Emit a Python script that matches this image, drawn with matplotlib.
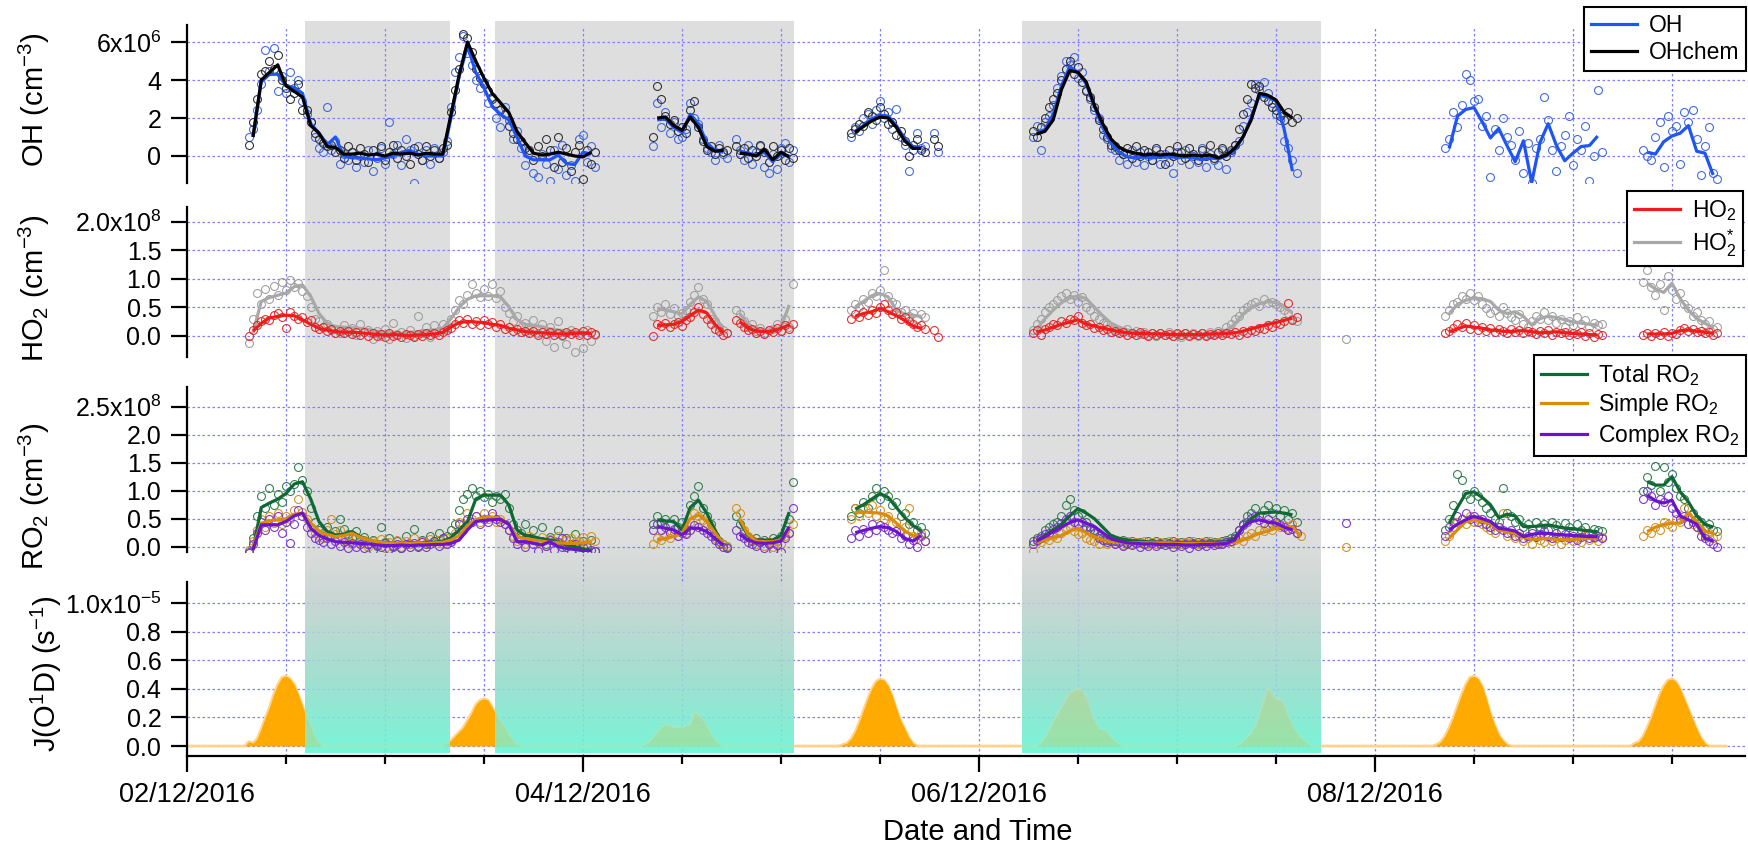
import numpy as np
import matplotlib
matplotlib.use("Agg")
from matplotlib import pyplot as plt
from matplotlib.colors import to_rgb
from matplotlib.lines import Line2D
from matplotlib.ticker import FixedFormatter, FixedLocator, MultipleLocator

nan = np.nan

plt.rcParams["font.family"] = "Liberation Sans"
plt.rcParams["mathtext.fontset"] = "custom"
plt.rcParams["mathtext.rm"] = "Liberation Sans"
plt.rcParams["mathtext.it"] = "Liberation Sans:italic"
plt.rcParams["mathtext.bf"] = "Liberation Sans:bold"
plt.rcParams["mathtext.default"] = "regular"

# ---- data: times in hours after 02/12/2016 00:00 ----
# lines are hourly means (1 h step), points are 30 min values
SHADE_PERIODS = [(14.25, 31.8), (37.3, 73.5), (101.2, 137.4)]
LINE_START = [8, 57, 67, 81, 103, 153, 177]
PT_START = [7.5, 56.5, 66.5, 80.5, 102.5, 152.5, 176.5]
STRAY_H = 140.5

XTICK_DAYS = [0, 2, 4, 6]
XTICK_LABELS = ["02/12/2016", "04/12/2016", "06/12/2016", "08/12/2016"]

# OH, 1e6 cm-3
oh_line = [
    [1.0, 3.9, 4.3, 4.3, 3.7, 3.6, 3.3, 1.7, 1.2, 0.6, 1.0, 0.0, -0.1, -0.1, -0.15, -0.2, -0.1, 0.0, 0.2, 0.3,
     0.1, 0.0, 0.0, 0.0, 2.0, 4.2, 5.8, 4.4, 3.6, 2.6, 2.2, 1.9, 1.0, 0.0, -0.2, -0.2, -0.2, 0.05, -0.4, -0.45,
     0.2, 0.1],
    [1.9, 1.95, 1.5, 1.25, 2.2, 1.7, 0.7, 0.3, 0.2],
    [0.25, 0.15, 0.05, 0.2, -0.3, 0.1, 0.0],
    [1.3, 1.6, 1.95, 2.15, 2.1, 1.6, 0.9, 0.5, 0.45],
    [1.2, 1.4, 2.2, 3.7, 4.7, 4.4, 3.8, 2.6, 1.5, 0.7, 0.2, -0.05, -0.1, -0.05, -0.1, -0.05, 0.0, -0.1, -0.05, -0.1,
     -0.2, -0.1, -0.15, 0.0, 0.3, 1.0, 2.0, 3.2, 3.1, 2.9, 1.4, -0.8],
    [0.4, 2.1, 2.45, 2.55, 1.8, 0.95, 1.45, 0.55, -0.3, 0.8, -1.4, 0.7, 1.7, 0.55, -0.25, 0.15, 0.5, 0.55, 1.05],
    [0.2, 0.1, 0.75, 1.05, 1.2, 1.6, 0.25, 0.15, -1.0],
]
ohchem_line = [
    [1.0, 4.0, 4.4, 4.8, 3.7, 3.4, 3.1, 1.6, 1.2, 0.5, 0.45, 0.1, 0.1, 0.15, 0.05, 0.1, 0.0, 0.15, 0.1, 0.15,
     0.05, 0.15, 0.1, 0.1, 2.2, 4.3, 6.0, 5.0, 4.1, 3.3, 2.8, 2.3, 1.3, 0.7, 0.15, 0.05, 0.1, 0.2, 0.1, 0.0,
     -0.05, 0.2],
    [2.0, 2.05, 1.6, 1.35, 2.05, 1.5, 0.5, 0.25, 0.3],
    [0.15, 0.1, 0.0, 0.35, -0.2, 0.2, -0.05],
    [1.25, 1.55, 1.85, 2.05, 2.0, 1.5, 0.8, 0.4, 0.4],
    [1.15, 1.3, 1.9, 3.5, 4.5, 4.4, 3.9, 2.65, 1.7, 0.9, 0.45, 0.25, 0.15, 0.05, 0.1, 0.05, 0.1, 0.05, 0.0, 0.05,
     0.0, 0.05, -0.1, 0.05, 0.4, 1.0, 1.9, 3.3, 3.2, 2.95, 2.3, 2.0],
]
oh_pts = [
    [1.0, 1.4, 2.4, 3.8, 5.6, 4.5, 5.7, 3.4, 4.2, 3.3, 4.4, 3.6, 4.0, 2.9, 2.2, 1.8, 1.0, 0.4, 0.2, 2.6,
     0.3, 0.8, -0.4, 0.1, -0.2, 0.2, -0.6, 0.0, -0.3, 0.3, -0.8, -0.1, 0.4, -0.4, 1.8, 0.1, 0.6, -0.5, 0.9, 0.3,
     -1.4, 0.5, -0.2, 0.3, -0.4, 0.4, -0.1, 0.2, 0.8, 2.6, 4.4, 5.2, 6.3, 5.4, 4.8, 4.0, 3.6, 3.9, 2.8, 3.1,
     2.0, 1.5, 2.6, 1.9, 0.9, 1.3, 0.4, -0.5, 0.2, -0.9, -1.1, 0.1, -0.4, -1.3, 0.3, -0.7, 0.6, -1.0, -0.5, -1.3,
     0.9, 1.1, -0.3, 0.5, -0.6],
    [0.5, 2.8, 1.5, 2.3, 1.2, 1.8, 0.9, 1.0, 1.4, 2.8, 2.0, 1.7, 0.9, 0.4, 0.2, -0.2, 0.6, 0.1, -0.1],
    [0.9, 0.3, -0.2, 0.6, -0.4, 0.2, 0.5, -0.6, -0.9, 0.1, -0.7, 0.4, 0.7, -0.3, 0.3],
    [1.0, 1.5, 1.3, 2.0, 2.2, 1.7, 2.4, 2.9, 2.0, 2.3, 1.4, 2.5, 1.0, 0.6, -0.8, 0.3, 1.2, 0.4, 0.5, nan, 1.2, 0.2],
    [1.0, 1.6, 0.3, 1.8, 2.1, 2.7, 3.6, 4.2, 5.0, 4.8, 5.2, 4.1, 4.4, 3.5, 3.0, 2.4, 2.0, 1.1, 0.9, 0.4,
     0.3, -0.2, 0.1, -0.4, 0.3, -0.3, 0.2, -0.5, 0.0, -0.2, 0.3, -0.4, 0.1, -0.3, -0.9, 0.2, -0.2, 0.3, -0.4, 0.0,
     -0.3, 0.4, -0.6, 0.1, -0.2, -0.5, 0.3, -0.7, 0.2, 0.6, 0.8, 1.6, 2.3, 2.8, 3.8, 3.5, 3.9, 3.3, 2.8, 2.2,
     1.9, 0.8, 0.4, -0.2, -0.9],
    [0.4, 0.9, 2.3, 1.5, 2.7, 4.3, 4.0, 2.9, 3.0, 1.6, 2.1, -1.1, 1.4, 0.3, 2.0, 1.0, 0.6, -0.2, 1.3, -0.9,
     0.7, -1.4, 0.4, 0.9, 3.1, 1.9, 0.3, -0.8, 0.5, 1.1, 2.1, -0.5, 0.9, 0.3, 1.6, -1.3, 0.0, 3.5, 0.2],
    [0.3, 0.0, -0.2, 1.0, 1.8, -0.6, 2.1, 1.3, 1.6, -0.4, 2.3, 1.8, 2.4, 0.9, -1.0, 0.5, 1.5, -0.9, -1.2],
]
ohchem_pts = [
    [0.6, 1.8, 3.0, 4.3, 4.5, 5.0, 4.6, 5.3, 4.0, 3.6, 3.0, 3.3, 3.8, 2.4, 2.4, 1.8, 1.2, 0.9, 0.7, 0.5,
     0.6, 0.2, 0.3, -0.1, 0.5, 0.2, -0.2, 0.4, 0.1, -0.3, 0.3, 0.0, 0.5, -0.2, 0.2, 0.6, -0.1, 0.3, 0.0, -0.4,
     0.4, 0.1, -0.2, 0.5, 0.0, 0.3, -0.1, 0.4, 0.6, 2.3, 3.5, 4.6, 6.4, 6.2, 5.5, 4.6, 4.1, 3.8, 3.4, 3.0,
     2.8, 2.4, 2.2, 1.6, 1.2, 0.9, 0.8, 0.4, 0.3, -0.2, 0.5, 0.0, 0.9, 0.3, -0.6, 1.0, -0.3, 0.4, -0.8, 0.2,
     0.6, -1.2, 0.3, -0.4, 0.2],
    [1.0, 3.7, 3.0, 2.1, 1.7, 1.9, 1.3, 1.5, 1.2, 2.4, 2.9, 1.5, 0.8, 0.3, 0.5, 0.1, 0.4, 0.2, 0.3],
    [0.5, 0.1, 0.4, -0.1, 0.3, 0.0, 0.6, 0.2, -0.3, 0.5, 0.0, 0.3, -0.2, 0.4, -0.1],
    [1.2, 1.4, 1.7, 1.6, 2.3, 2.1, 1.9, 2.6, 2.2, 1.7, 1.8, 1.1, 1.3, 0.8, 0.0, 0.6, 0.9, 0.3, 0.2, nan, 0.9, 0.5],
    [1.3, 1.0, 1.5, 2.0, 2.6, 3.0, 3.3, 4.0, 4.6, 5.0, 4.3, 4.7, 3.9, 3.4, 3.1, 2.6, 1.9, 1.4, 1.0, 0.6,
     0.5, 0.3, 0.1, 0.4, -0.1, 0.5, 0.0, 0.3, 0.2, -0.2, 0.4, 0.1, -0.4, 0.3, 0.0, 0.5, 0.2, -0.1, 0.4, 0.1,
     -0.2, 0.3, 0.0, 0.6, -0.1, 0.2, 0.4, 0.0, 0.3, 0.6, 1.4, 2.2, 3.0, 3.8, 3.6, 3.7, 3.1, 2.9, 2.6, 2.4,
     2.1, 1.9, 2.3, 1.8, 2.0],
]

# HO2 and HO2*, 1e8 cm-3
ho2_line = [
    [0.08, 0.22, 0.31, 0.34, 0.36, 0.35, 0.28, 0.2, 0.13, 0.1, 0.07, 0.06, 0.06, 0.05, 0.04, 0.02, 0.01, 0.02, 0.01, 0.0,
     0.01, 0.02, 0.03, 0.06, 0.15, 0.23, 0.25, 0.24, 0.23, 0.2, 0.18, 0.13, 0.1, 0.07, 0.06, 0.05, 0.04, 0.03, 0.03, 0.04,
     0.05, 0.04],
    [0.18, 0.19, 0.2, 0.25, 0.35, 0.45, 0.4, 0.2, 0.05],
    [0.25, 0.13, 0.08, 0.07, 0.08, 0.13, 0.19],
    [0.34, 0.39, 0.42, 0.48, 0.42, 0.35, 0.27, 0.17, 0.13],
    [0.07, 0.1, 0.15, 0.2, 0.24, 0.28, 0.2, 0.17, 0.13, 0.1, 0.07, 0.05, 0.04, 0.04, 0.03, 0.03, 0.02, 0.02, 0.02, 0.02,
     0.02, 0.03, 0.03, 0.04, 0.05, 0.08, 0.12, 0.16, 0.2, 0.23, 0.27, 0.31],
    [0.07, 0.12, 0.17, 0.15, 0.13, 0.1, 0.09, 0.07, 0.08, 0.09, 0.07, 0.05, 0.06, 0.07, 0.05, 0.04, 0.03, 0.02, 0.01],
    [0.03, 0.03, 0.03, 0.04, 0.09, 0.1, 0.08, 0.06, 0.04],
]
ho2s_line = [
    [0.05, 0.6, 0.67, 0.71, 0.75, 0.86, 0.89, 0.69, 0.39, 0.22, 0.16, 0.15, 0.14, 0.13, 0.11, 0.08, 0.07, 0.05, 0.04, 0.06,
     0.07, 0.09, 0.1, 0.13, 0.3, 0.5, 0.64, 0.7, 0.7, 0.7, 0.68, 0.51, 0.28, 0.2, 0.18, 0.16, 0.12, 0.1, 0.08, 0.07,
     0.05, 0.04],
    [0.48, 0.45, 0.42, 0.38, 0.55, 0.68, 0.6, 0.35, 0.1],
    [0.39, 0.2, 0.12, 0.1, 0.1, 0.15, 0.54],
    [0.5, 0.6, 0.7, 0.74, 0.68, 0.45, 0.38, 0.36, 0.34],
    [0.12, 0.3, 0.45, 0.58, 0.66, 0.7, 0.65, 0.5, 0.35, 0.22, 0.15, 0.1, 0.07, 0.05, 0.04, 0.04, 0.03, 0.02, 0.01, 0.02,
     0.02, 0.03, 0.04, 0.1, 0.2, 0.38, 0.5, 0.56, 0.6, 0.58, 0.5, 0.4],
    [0.39, 0.55, 0.62, 0.66, 0.65, 0.6, 0.45, 0.39, 0.42, 0.34, 0.19, 0.3, 0.34, 0.32, 0.28, 0.24, 0.22, 0.2, 0.19],
    [0.92, 0.82, 0.76, 0.92, 0.65, 0.45, 0.3, 0.22, 0.13],
]
ho2_pts = [
    [0.0, 0.1, 0.18, 0.25, 0.3, 0.27, 0.36, 0.4, 0.33, 0.13, 0.42, 0.35, 0.3, 0.32, 0.24, 0.28, 0.16, 0.12, 0.15, 0.08,
     0.11, 0.05, 0.09, 0.04, 0.08, 0.03, 0.07, 0.02, 0.06, 0.0, 0.05, -0.01, 0.03, -0.03, 0.04, 0.0, 0.02, -0.02, 0.03, 0.01,
     -0.02, 0.03, 0.0, 0.04, 0.02, 0.05, 0.01, 0.06, 0.1, 0.14, 0.2, 0.28, 0.22, 0.3, 0.2, 0.26, 0.19, 0.28, 0.21, 0.24,
     0.15, 0.2, 0.12, 0.15, 0.09, 0.12, 0.06, 0.09, 0.04, 0.08, 0.02, 0.07, 0.03, 0.06, 0.01, 0.05, 0.02, 0.07, 0.03, 0.06,
     0.01, 0.08, 0.02, 0.06, 0.03],
    [0.0, 0.2, 0.17, 0.22, 0.15, 0.2, 0.24, 0.17, 0.27, 0.33, 0.42, 0.5, 0.38, 0.3, 0.2, 0.12, 0.08, 0.02, 0.05],
    [0.27, 0.22, 0.15, 0.1, 0.12, 0.05, 0.08, 0.03, 0.1, 0.06, 0.14, 0.09, 0.18, 0.12, 0.2],
    [0.3, 0.38, 0.33, 0.42, 0.37, 0.45, 0.4, 0.5, 0.55, 0.45, 0.38, 0.42, 0.3, 0.33, 0.25, 0.2, 0.15, 0.18, 0.12,
     nan, 0.1, -0.02],
    [0.05, 0.1, 0.02, 0.12, 0.15, 0.2, 0.18, 0.25, 0.22, 0.3, 0.27, 0.34, 0.22, 0.18, 0.2, 0.14, 0.16, 0.1, 0.12, 0.06,
     0.09, 0.04, 0.07, 0.02, 0.05, 0.01, 0.06, 0.03, 0.0, 0.05, 0.02, 0.04, 0.01, 0.03, 0.0, 0.04, 0.02, 0.05, 0.0, 0.03,
     0.01, 0.04, -0.01, 0.03, 0.02, 0.05, 0.01, 0.04, 0.03, 0.06, 0.02, 0.08, 0.05, 0.1, 0.09, 0.14, 0.12, 0.18, 0.15, 0.22,
     0.2, 0.25, 0.58, 0.28, 0.32],
    [0.05, 0.09, 0.14, 0.2, 0.16, 0.22, 0.12, 0.18, 0.1, 0.15, 0.08, 0.13, 0.06, 0.11, 0.09, 0.05, 0.12, 0.07, 0.1, 0.04,
     0.09, 0.06, 0.03, 0.08, 0.05, 0.1, 0.02, 0.07, 0.04, 0.06, 0.01, 0.05, 0.03, 0.07, 0.0, 0.04, -0.02, 0.03, 0.01],
    [0.02, 0.05, 0.0, 0.04, 0.02, 0.06, -0.01, 0.05, 0.03, 0.1, 0.13, 0.08, 0.12, 0.06, 0.09, 0.04, 0.07, 0.02, 0.05],
]
ho2s_pts = [
    [-0.12, 0.3, 0.75, 0.55, 0.82, 0.65, 0.88, 0.72, 0.95, 0.8, 0.98, 0.85, 0.92, 0.78, 0.7, 0.5, 0.3, 0.25, 0.15, 0.2,
     0.1, 0.12, 0.05, 0.18, 0.08, 0.14, 0.02, 0.2, 0.06, 0.1, -0.05, 0.08, 0.0, 0.12, -0.06, 0.22, 0.03, 0.07, -0.04, 0.1,
     0.0, 0.35, 0.05, 0.15, -0.02, 0.18, 0.08, 0.2, 0.14, 0.3, 0.45, 0.62, 0.55, 0.72, 0.9, 0.75, 0.68, 0.82, 0.7, 0.9,
     0.66, 0.78, 0.5, 0.4, 0.25, 0.35, 0.15, 0.22, 0.1, 0.28, 0.05, 0.2, -0.1, 0.15, -0.2, 0.25, 0.0, -0.15, 0.1, -0.28,
     0.05, -0.22, 0.1, -0.1, 0.02],
    [0.35, 0.5, 0.42, 0.55, 0.38, 0.48, 0.35, 0.4, 0.45, 0.6, 0.72, 0.85, 0.65, 0.55, 0.3, 0.25, 0.15, 0.1, 0.05],
    [0.45, 0.38, 0.25, 0.15, 0.2, 0.08, 0.14, 0.05, 0.1, 0.12, 0.2, 0.08, 0.3, 0.15, 0.9],
    [0.45, 0.55, 0.5, 0.65, 0.6, 0.75, 0.7, 0.8, 1.15, 0.7, 0.6, 0.55, 0.42, 0.45, 0.35, 0.4, 0.3, 0.38, 0.32],
    [0.1, 0.2, 0.3, 0.42, 0.5, 0.55, 0.62, 0.7, 0.75, 0.65, 0.72, 0.6, 0.68, 0.5, 0.45, 0.35, 0.3, 0.22, 0.2, 0.15,
     0.12, 0.1, 0.08, 0.12, 0.05, 0.08, 0.03, 0.06, 0.02, 0.05, 0.0, 0.04, 0.02, 0.06, 0.0, 0.03, -0.03, 0.05, 0.01, 0.04,
     0.0, 0.05, 0.02, 0.06, 0.03, 0.08, 0.05, 0.15, 0.2, 0.3, 0.35, 0.45, 0.5, 0.55, 0.6, 0.52, 0.65, 0.58, 0.6, 0.55,
     0.5, 0.45, 0.4, 0.3, 0.25],
    [0.35, 0.45, 0.55, 0.6, 0.7, 0.65, 0.75, 0.62, 0.7, 0.55, 0.48, 0.4, 0.45, 0.35, 0.5, 0.4, 0.32, 0.28, 0.38, 0.2,
     0.15, 0.25, 0.35, 0.3, 0.42, 0.28, 0.35, 0.22, 0.3, 0.15, 0.25, 0.18, 0.32, 0.2, 0.28, 0.15, 0.22, 0.18, 0.2],
    [0.95, 1.15, 0.85, 0.72, 0.9, 0.45, 1.05, 0.8, 0.65, 0.75, 0.55, 0.48, 0.35, 0.42, 0.28, 0.2, 0.25, 0.12, 0.15],
]
ho2s_stray = -0.05

# RO2, 1e8 cm-3
total_line = [
    [-0.05, 0.7, 0.78, 0.85, 0.95, 1.12, 1.16, 0.85, 0.45, 0.27, 0.21, 0.22, 0.27, 0.18, 0.12, 0.09, 0.07, 0.06, 0.06, 0.07,
     0.07, 0.07, 0.08, 0.1, 0.16, 0.3, 0.45, 0.85, 0.92, 0.92, 0.92, 0.75, 0.3, 0.2, 0.18, 0.14, 0.12, 0.08, 0.03, 0.0,
     -0.04, -0.06],
    [0.48, 0.46, 0.45, 0.3, 0.7, 0.83, 0.6, 0.3, 0.03],
    [0.45, 0.2, 0.12, 0.12, 0.12, 0.2, 0.62],
    [0.67, 0.75, 0.85, 0.95, 0.88, 0.7, 0.52, 0.38, 0.28],
    [0.1, 0.2, 0.3, 0.4, 0.55, 0.68, 0.6, 0.5, 0.35, 0.2, 0.15, 0.12, 0.1, 0.09, 0.08, 0.08, 0.07, 0.07, 0.07, 0.07,
     0.07, 0.08, 0.08, 0.09, 0.15, 0.35, 0.5, 0.6, 0.61, 0.62, 0.6, 0.57],
    [0.42, 0.7, 0.95, 0.98, 0.88, 0.75, 0.52, 0.58, 0.55, 0.36, 0.36, 0.37, 0.39, 0.36, 0.33, 0.32, 0.3, 0.28, 0.27],
    [1.16, 1.1, 1.1, 1.25, 0.98, 0.8, 0.55, 0.4, 0.35],
]
simple_line = [
    [0.0, 0.42, 0.46, 0.48, 0.5, 0.58, 0.6, 0.42, 0.28, 0.22, 0.18, 0.2, 0.24, 0.17, 0.12, 0.09, 0.07, 0.06, 0.06, 0.06,
     0.07, 0.06, 0.07, 0.08, 0.12, 0.2, 0.38, 0.48, 0.53, 0.53, 0.5, 0.4, 0.18, 0.14, 0.12, 0.1, 0.08, 0.07, 0.06, 0.06,
     0.07, 0.07],
    [0.12, 0.15, 0.18, 0.24, 0.5, 0.57, 0.45, 0.25, 0.06],
    [0.5, 0.22, 0.1, 0.09, 0.09, 0.12, 0.3],
    [0.6, 0.62, 0.61, 0.6, 0.55, 0.42, 0.28, 0.2, 0.18],
    [0.08, 0.12, 0.16, 0.2, 0.28, 0.33, 0.25, 0.18, 0.12, 0.09, 0.08, 0.07, 0.07, 0.07, 0.07, 0.07, 0.07, 0.06, 0.06, 0.06,
     0.06, 0.06, 0.06, 0.07, 0.08, 0.12, 0.18, 0.24, 0.28, 0.33, 0.35, 0.36, 0.18],
    [0.15, 0.3, 0.45, 0.48, 0.45, 0.42, 0.3, 0.26, 0.24, 0.18, 0.13, 0.14, 0.15, 0.13, 0.12, 0.13, 0.14, 0.15, 0.15],
    [0.27, 0.35, 0.4, 0.42, 0.42, 0.6, 0.45, 0.28, 0.24],
]
complex_line = [
    [-0.06, 0.39, 0.39, 0.39, 0.45, 0.55, 0.6, 0.33, 0.2, 0.14, 0.09, 0.08, 0.07, 0.06, 0.05, 0.03, 0.02, 0.02, 0.03, 0.02,
     0.03, 0.03, 0.04, 0.04, 0.06, 0.12, 0.3, 0.45, 0.47, 0.48, 0.49, 0.4, 0.09, 0.09, 0.06, 0.03, 0.09, 0.0, -0.03, -0.05,
     -0.07, -0.09],
    [0.36, 0.33, 0.3, 0.21, 0.33, 0.33, 0.27, 0.15, 0.03],
    [0.22, 0.12, 0.07, 0.06, 0.07, 0.1, 0.36],
    [0.25, 0.29, 0.33, 0.36, 0.34, 0.27, 0.15, 0.1, 0.2],
    [0.1, 0.18, 0.27, 0.35, 0.43, 0.48, 0.42, 0.36, 0.25, 0.14, 0.1, 0.07, 0.06, 0.05, 0.05, 0.04, 0.04, 0.04, 0.03, 0.03,
     0.04, 0.04, 0.05, 0.06, 0.12, 0.35, 0.45, 0.48, 0.44, 0.42, 0.35, 0.3],
    [0.3, 0.4, 0.48, 0.54, 0.5, 0.45, 0.33, 0.31, 0.28, 0.18, 0.22, 0.24, 0.24, 0.22, 0.21, 0.2, 0.19, 0.18, 0.18],
    [0.92, 0.82, 0.78, 0.83, 0.55, 0.48, 0.4, 0.15, 0.1],
]
total_pts = [
    [-0.12, 0.15, 0.55, 0.9, 0.7, 1.05, 0.75, 0.95, 0.8, 1.08, 1.0, 1.12, 1.42, 1.2, 1.0, 0.7, 0.45, 0.3, 0.25, 0.35,
     0.2, 0.28, 0.5, 0.32, 0.22, 0.15, 0.28, 0.1, 0.18, 0.05, 0.12, 0.02, 0.35, 0.08, 0.15, 0.0, 0.1, -0.02, 0.2, 0.05,
     0.32, 0.0, 0.12, 0.05, 0.2, 0.1, 0.25, 0.15, 0.2, 0.3, 0.4, 0.65, 0.85, 0.95, 1.05, 0.9, 1.0, 0.88, 0.95, 0.8,
     0.9, 0.85, 0.95, 0.7, 0.4, 0.3, 0.25, 0.4, 0.15, 0.3, 0.1, 0.35, 0.05, 0.18, 0.1, 0.3, 0.0, 0.15, 0.05, 0.22,
     -0.05, 0.1, 0.0, 0.12, -0.08],
    [0.4, 0.55, 0.45, 0.5, 0.4, 0.5, 0.35, 0.45, 0.3, 0.75, 0.9, 1.08, 0.7, 0.55, 0.4, 0.2, 0.1, 0.05, 0.0],
    [0.55, 0.4, 0.25, 0.18, 0.1, 0.15, 0.08, 0.12, 0.05, 0.15, 0.1, 0.2, 0.3, 0.5, 1.15],
    [0.55, 0.7, 0.6, 0.8, 0.7, 0.9, 1.05, 0.85, 1.0, 0.9, 0.75, 0.8, 0.55, 0.6, 0.4, 0.45, 0.3, 0.35, 0.25],
    [0.1, 0.15, 0.2, 0.3, 0.35, 0.4, 0.45, 0.55, 0.75, 0.85, 0.65, 0.55, 0.6, 0.45, 0.35, 0.3, 0.2, 0.18, 0.12, 0.15,
     0.1, 0.08, 0.12, 0.05, 0.1, 0.07, 0.09, 0.04, 0.1, 0.06, 0.1, 0.07, 0.09, 0.04, 0.1, 0.06, 0.08, 0.05, 0.1, 0.06,
     0.08, 0.07, 0.1, 0.06, 0.09, 0.08, 0.1, 0.12, 0.15, 0.2, 0.3, 0.4, 0.55, 0.6, 0.7, 0.55, 0.65, 0.75, 0.6, 0.7,
     0.55, 0.65, 0.5, 0.6, 0.45],
    [0.3, 0.5, 0.75, 1.3, 1.2, 0.95, 0.85, 1.0, 0.9, 0.8, 0.7, 0.6, 0.5, 0.45, 1.05, 0.6, 0.55, 0.45, 0.5, 0.35,
     0.4, 0.3, 0.45, 0.35, 0.4, 0.3, 0.45, 0.38, 0.3, 0.42, 0.35, 0.28, 0.4, 0.3, 0.35, 0.25, 0.32, 0.3, 0.28],
    [1.0, 1.25, 1.1, 1.45, 1.0, 1.42, 1.15, 1.3, 1.05, 0.9, 0.85, 0.7, 0.6, 0.5, 0.45, 0.35, 0.4, 0.3, 0.28],
]
simple_pts = [
    [-0.05, 0.1, 0.3, 0.5, 0.35, 0.55, 0.42, 0.6, 0.4, 0.55, 0.5, 0.65, 0.85, 0.62, 0.5, 0.35, 0.25, 0.2, 0.15, 0.3,
     0.5, 0.22, 0.3, 0.12, 0.18, 0.05, 0.15, 0.08, 0.12, 0.0, 0.1, 0.04, 0.14, -0.02, 0.08, 0.03, 0.12, 0.0, 0.1, 0.05,
     0.15, 0.02, 0.1, 0.06, 0.14, 0.08, 0.12, 0.05, 0.15, 0.1, 0.25, 0.45, 0.4, 0.6, 0.5, 0.55, 0.45, 0.6, 0.5, 0.55,
     0.45, 0.5, 0.4, 0.3, 0.2, 0.1, 0.15, 0.05, 0.2, 0.12, 0.08, 0.18, 0.02, 0.14, 0.1, 0.2, 0.05, 0.12, 0.15, 0.08,
     0.1, 0.18, 0.05, 0.2, 0.1],
    [0.05, 0.15, 0.12, 0.2, 0.15, 0.25, 0.2, 0.3, 0.25, 0.45, 0.6, 0.55, 0.48, 0.4, 0.3, 0.15, 0.08, 0.05, 0.02],
    [0.7, 0.6, 0.3, 0.2, 0.12, 0.05, 0.1, 0.02, 0.08, 0.0, 0.1, 0.05, 0.2, 0.25, 0.4],
    [0.5, 0.7, 0.55, 0.68, 0.6, 0.75, 0.55, 0.65, 0.5, 0.55, 0.4, 0.45, 0.28, 0.35, 0.7, 0.2, 0.15, 0.25, 0.1],
    [-0.08, 0.1, 0.08, 0.15, 0.12, 0.2, 0.15, 0.25, 0.3, 0.35, 0.28, 0.22, 0.25, 0.15, 0.12, 0.1, 0.05, 0.12, 0.04, 0.1,
     0.06, 0.08, 0.03, 0.1, 0.05, 0.08, 0.06, 0.1, 0.04, 0.08, 0.05, 0.09, 0.06, 0.1, 0.04, 0.08, 0.05, 0.09, 0.06, 0.1,
     0.05, 0.08, 0.06, 0.1, 0.07, 0.09, 0.06, 0.1, 0.08, 0.12, 0.15, 0.1, 0.2, 0.25, 0.2, 0.3, 0.28, 0.35, 0.3, 0.4,
     0.35, 0.38, 0.32, 0.4, 0.25, 0.2],
    [0.1, 0.2, 0.35, 0.45, 0.5, 0.4, 0.55, 0.45, 0.5, 0.4, 0.35, 0.3, 0.25, 0.35, 0.6, 0.2, 0.25, 0.15, 0.2, 0.1,
     0.15, 0.05, 0.2, 0.12, 0.08, 0.18, 0.1, 0.15, 0.05, 0.12, 0.18, 0.1, 0.15, 0.08, 0.2, 0.12, 0.15, 0.1, 0.18],
    [0.2, 0.3, 0.25, 0.35, 0.3, 0.45, 0.4, 0.35, 0.5, 0.45, 0.7, 0.55, 0.4, 0.35, 0.3, 0.2, 0.25, 0.15, 0.2],
]
complex_pts = [
    [-0.1, 0.05, 0.25, 0.45, 0.3, 0.5, 0.35, 0.55, 0.25, 0.45, 0.07, 0.4, 0.65, 0.55, 0.35, 0.25, 0.15, 0.12, 0.08, 0.15,
     0.05, 0.1, 0.02, 0.08, -0.02, 0.06, 0.0, 0.05, -0.03, 0.04, -0.05, 0.03, 0.0, 0.06, -0.04, 0.02, 0.05, -0.02, 0.04, 0.0,
     0.06, 0.02, 0.08, 0.0, 0.05, 0.1, 0.02, 0.15, 0.05, 0.08, 0.2, 0.4, 0.3, 0.5, 0.45, 0.55, 0.4, 0.5, 0.45, 0.6,
     0.5, 0.45, 0.4, 0.3, 0.15, 0.05, 0.12, 0.0, 0.15, 0.05, -0.08, 0.1, 0.02, 0.12, -0.05, 0.08, 0.15, 0.0, -0.08, 0.05,
     -0.1, 0.0, -0.12, -0.05, -0.08],
    [0.3, 0.4, 0.3, 0.35, 0.25, 0.32, 0.2, 0.25, 0.22, 0.3, 0.38, 0.35, 0.3, 0.25, 0.2, 0.12, 0.05, 0.0, -0.02],
    [0.3, 0.2, 0.15, 0.08, 0.05, 0.02, 0.08, -0.02, 0.05, -0.05, 0.03, -0.1, 0.15, 0.25, 0.7],
    [0.15, 0.3, 0.2, 0.32, 0.25, 0.4, 0.3, 0.38, 0.35, 0.3, 0.25, 0.28, 0.15, 0.2, 0.05, 0.12, 0.0, 0.2, 0.1],
    [0.05, 0.12, 0.15, 0.22, 0.25, 0.32, 0.35, 0.42, 0.5, 0.55, 0.45, 0.4, 0.45, 0.35, 0.3, 0.25, 0.15, 0.12, 0.08, 0.1,
     0.05, 0.08, 0.02, 0.06, 0.03, 0.07, 0.0, 0.05, 0.02, 0.06, 0.01, 0.05, 0.03, 0.06, 0.0, 0.04, 0.02, 0.05, -0.02, 0.04,
     0.01, 0.05, 0.02, 0.06, 0.03, 0.05, 0.04, 0.08, 0.1, 0.15, 0.3, 0.38, 0.45, 0.52, 0.55, 0.48, 0.42, 0.5, 0.4, 0.45,
     0.38, 0.35, 0.3, 0.32, 0.25],
    [0.2, 0.35, 0.45, 0.55, 0.5, 0.6, 0.5, 0.55, 0.45, 0.5, 0.4, 0.35, 0.3, 0.35, 0.3, 0.25, 0.3, 0.2, 0.25, 0.15,
     0.2, 0.25, 0.18, 0.22, 0.28, 0.2, 0.15, 0.25, 0.18, 0.22, 0.15, 0.2, 0.12, 0.18, 0.22, 0.15, 0.18, 0.2, 0.15],
    [0.85, 1.0, 0.9, 0.75, 0.85, 0.8, 0.9, 0.7, 0.6, 0.5, 0.55, 0.4, 0.45, 0.35, 0.2, 0.15, 0.1, 0.05, 0.0],
]
simple_stray = 0.0
complex_stray = 0.42

# J(O1D), 1e-5 s-1, 30 min values for each daylight period
J_START = [7.0, 31.0, 55.0, 79.0, 103.0, 127.0, 151.0, 175.0]
J_END = 186.5
j_days = [
    [0.0, 0.03, 0.02, 0.05, 0.12, 0.2, 0.27, 0.36, 0.43, 0.48, 0.49, 0.47, 0.43, 0.36, 0.28, 0.2, 0.14, 0.06, 0.02, 0.0],
    [0.0, 0.02, 0.04, 0.07, 0.1, 0.13, 0.18, 0.23, 0.29, 0.32, 0.33, 0.32, 0.27, 0.22, 0.17, 0.13, 0.08, 0.04, 0.01, 0.0],
    [0.0, 0.01, 0.03, 0.06, 0.1, 0.13, 0.15, 0.14, 0.13, 0.13, 0.13, 0.14, 0.15, 0.23, 0.22, 0.18, 0.14, 0.08, 0.04,
     0.01, 0.0],
    [0.0, 0.01, 0.02, 0.05, 0.1, 0.17, 0.25, 0.33, 0.4, 0.45, 0.47, 0.46, 0.42, 0.35, 0.26, 0.18, 0.12, 0.06, 0.02, 0.0],
    [0.0, 0.02, 0.06, 0.11, 0.17, 0.22, 0.27, 0.32, 0.37, 0.39, 0.4, 0.38, 0.33, 0.24, 0.17, 0.12, 0.11, 0.1, 0.06,
     0.03, 0.01, 0.0],
    [0.0, 0.01, 0.03, 0.06, 0.09, 0.14, 0.22, 0.31, 0.4, 0.36, 0.33, 0.32, 0.28, 0.2, 0.14, 0.09, 0.06, 0.03, 0.01, 0.0],
    [0.0, 0.01, 0.03, 0.07, 0.13, 0.2, 0.28, 0.36, 0.43, 0.48, 0.49, 0.47, 0.42, 0.33, 0.23, 0.15, 0.08, 0.04, 0.01, 0.0],
    [0.0, 0.02, 0.03, 0.07, 0.13, 0.2, 0.28, 0.36, 0.42, 0.46, 0.47, 0.45, 0.4, 0.33, 0.26, 0.19, 0.12, 0.06, 0.02, 0.0],
]

# ---- styling ----
C_OH, C_OHCHEM = "#1f55f5", "#000000"
C_OH_PT, C_OHCHEM_PT = "#3b62dd", "#2a2a2a"
C_HO2, C_HO2S = "#f01c1c", "#a8a8a8"
C_HO2_PT, C_HO2S_PT = "#e42626", "#9c9c9c"
C_TOTAL, C_SIMPLE, C_COMPLEX = "#0f6934", "#d98b0a", "#6c14cc"
C_TOTAL_PT, C_SIMPLE_PT, C_COMPLEX_PT = "#2a7a4a", "#d4901c", "#7a2ed0"
C_J, C_J_BASE = "#ffaa00", "#ffd48a"
GRID = "#7f7fff"
SHADE_Y = [21, 540, 600, 680, 753]
SHADE_C = ["#dedede", "#dedede", "#c9d6d3", "#a2e0d0", "#78f5d8"]

W_PX, H_PX = 1748, 850
LEFT_PX, RIGHT_PX = 187, 1745
X_END = 7.869
X0 = LEFT_PX / W_PX
XW = (RIGHT_PX - LEFT_PX) / W_PX
LW = 2.3
MS = 5.7

fig = plt.figure(figsize=(W_PX / 100, H_PX / 100), dpi=100)
fig.patch.set_facecolor("white")

shade_rgb = np.array([to_rgb(c) for c in SHADE_C])


def shade_image(top_px, bottom_px):
    rows = np.linspace(top_px, bottom_px, 400)
    img = np.stack([np.interp(rows, SHADE_Y, shade_rgb[:, k]) for k in range(3)], axis=-1)
    return img[:, None, :]


# background: shaded periods and the 12 h grid running through every panel
bg = fig.add_axes([X0, 1 - 756 / H_PX, XW, (756 - 21) / H_PX], zorder=0)
for h0, h1 in SHADE_PERIODS:
    bg.imshow(shade_image(21, 753), extent=(h0 / 24, h1 / 24, 753, 21), origin="upper",
              aspect="auto", interpolation="bilinear")
for d in np.arange(0.5, X_END, 0.5):
    bg.axvline(d, ymin=0, ymax=(756 - 27) / (756 - 21), color=GRID, lw=0.9, ls=(0, (2, 2)))
bg.set_xlim(0, X_END)
bg.set_ylim(756, 21)
bg.set_axis_off()


def add_panel(top, bottom, ylim, ticks, labels):
    ax = fig.add_axes([X0, 1 - bottom / H_PX, XW, (bottom - top) / H_PX], zorder=2)
    ax.patch.set_visible(False)
    ax.set_xlim(0, X_END)
    ax.set_ylim(*ylim)
    for side in ("top", "right", "bottom"):
        ax.spines[side].set_visible(False)
    ax.spines["left"].set_linewidth(1.6)
    ax.yaxis.set_major_locator(FixedLocator(ticks))
    ax.yaxis.set_major_formatter(FixedFormatter(labels))
    ax.tick_params(axis="y", direction="out", length=11.5, width=1.6, pad=7, labelsize=18)
    ax.tick_params(axis="x", bottom=False, labelbottom=False)
    ax.yaxis.grid(True, color=GRID, ls=(0, (2, 2)), lw=0.9)
    ax.set_axisbelow(True)
    return ax


def draw_pts(ax, segs, color, z, starts=PT_START):
    t = np.concatenate([(s + 0.5 * np.arange(len(v))) / 24 for s, v in zip(starts, segs)])
    y = np.concatenate([np.asarray(v, float) for v in segs])
    ax.plot(t, y, ls="none", marker="o", ms=MS, mfc="none", mec=color, mew=0.75, zorder=z)


def draw_line(ax, segs, color, z):
    for s, v in zip(LINE_START, segs):
        t = (s + np.arange(len(v))) / 24
        ax.plot(t, v, color=color, lw=LW, zorder=z, solid_joinstyle="round", solid_capstyle="butt")


def add_legend(ax, entries, right_px, top_px, spacing):
    handles = [Line2D([], [], color=c, lw=LW) for c, _ in entries]
    leg = ax.legend(handles, [t for _, t in entries], loc="upper right",
                    bbox_to_anchor=(right_px / W_PX, 1 - top_px / H_PX), bbox_transform=fig.transFigure,
                    fontsize=16.5, frameon=True, fancybox=False, framealpha=1, edgecolor="black",
                    borderpad=0.3, labelspacing=spacing, handlelength=2.0, handletextpad=0.5,
                    borderaxespad=0)
    leg.get_frame().set_linewidth(1.5)
    leg.set_zorder(20)


# OH panel
ax_oh = add_panel(25, 183.3, (-1.437, 6.895), [0, 2, 4, 6], ["0", "2", "4", r"6x10$^{6}$"])
draw_pts(ax_oh, oh_pts, C_OH_PT, 3)
draw_pts(ax_oh, ohchem_pts, C_OHCHEM_PT, 3)
draw_line(ax_oh, oh_line, C_OH, 4)
draw_line(ax_oh, ohchem_line, C_OHCHEM, 5)
add_legend(ax_oh, [(C_OH, "OH"), (C_OHCHEM, "OHchem")], 1746, 7, 0.2)

# HO2 panel
ax_ho2 = add_panel(206.7, 356.7, (-0.368, 2.263), [0, 0.5, 1.0, 1.5, 2.0],
                   ["0.0", "0.5", "1.0", "1.5", r"2.0x10$^{8}$"])
draw_pts(ax_ho2, ho2s_pts, C_HO2S_PT, 3)
draw_pts(ax_ho2, [[ho2s_stray]], C_HO2S_PT, 3, starts=[STRAY_H])
draw_line(ax_ho2, ho2s_line, C_HO2S, 4)
draw_pts(ax_ho2, ho2_pts, C_HO2_PT, 5)
draw_line(ax_ho2, ho2_line, C_HO2, 6)
add_legend(ax_ho2, [(C_HO2, r"HO$_2$"), (C_HO2S, r"HO$_2^{*}$")], 1743, 191, 0.2)

# RO2 panel
ax_ro2 = add_panel(386.7, 551.7, (-0.089, 2.857), [0, 0.5, 1.0, 1.5, 2.0, 2.5],
                   ["0.0", "0.5", "1.0", "1.5", "2.0", r"2.5x10$^{8}$"])
draw_pts(ax_ro2, total_pts, C_TOTAL_PT, 3)
draw_pts(ax_ro2, simple_pts, C_SIMPLE_PT, 3)
draw_pts(ax_ro2, complex_pts, C_COMPLEX_PT, 3)
draw_pts(ax_ro2, [[simple_stray]], C_SIMPLE_PT, 3, starts=[STRAY_H])
draw_pts(ax_ro2, [[complex_stray]], C_COMPLEX_PT, 3, starts=[STRAY_H])
draw_line(ax_ro2, total_line, C_TOTAL, 4)
draw_line(ax_ro2, simple_line, C_SIMPLE, 5)
draw_line(ax_ro2, complex_line, C_COMPLEX, 6)
add_legend(ax_ro2, [(C_TOTAL, r"Total RO$_2$"), (C_SIMPLE, r"Simple RO$_2$"),
                    (C_COMPLEX, r"Complex RO$_2$")], 1746, 355, 0.15)

# J(O1D) panel with the date axis
J_TOP, J_BOTTOM, J_LIM = 581.7, 756, (-0.070, 1.151)
ax_j = add_panel(J_TOP, J_BOTTOM, J_LIM, [0, 0.2, 0.4, 0.6, 0.8, 1.0],
                 ["0.0", "0.2", "0.4", "0.6", "0.8", r"1.0x10$^{-5}$"])
j_t = np.arange(0, J_END + 0.25, 0.5)
j_v = np.zeros_like(j_t)
for s, vals in zip(J_START, j_days):
    i0 = int(round(s / 0.5))
    j_v[i0:i0 + len(vals)] = vals
ax_j.plot(j_t / 24, j_v, color=C_J_BASE, lw=2.0, zorder=2)
ax_j.fill_between(j_t / 24, 0, j_v, color=C_J, lw=0, zorder=3)


def px_to_j(px):
    return J_LIM[0] + (J_BOTTOM - px) / (J_BOTTOM - J_TOP) * (J_LIM[1] - J_LIM[0])


for h0, h1 in SHADE_PERIODS:
    ax_j.imshow(shade_image(J_TOP, 753), extent=(h0 / 24, h1 / 24, px_to_j(753), J_LIM[1]),
                origin="upper", aspect="auto", interpolation="bilinear", alpha=0.8, zorder=4)
ax_j.set_xlim(0, X_END)
ax_j.set_ylim(*J_LIM)
ax_j.spines["bottom"].set_visible(True)
ax_j.spines["bottom"].set_linewidth(1.6)
ax_j.xaxis.set_major_locator(FixedLocator(XTICK_DAYS))
ax_j.xaxis.set_major_formatter(FixedFormatter(XTICK_LABELS))
ax_j.xaxis.set_minor_locator(MultipleLocator(0.5))
ax_j.tick_params(axis="x", which="major", bottom=True, labelbottom=True, direction="out",
                 length=11.5, width=1.6, pad=7, labelsize=19.5)
ax_j.tick_params(axis="x", which="minor", bottom=True, direction="out", length=6, width=1.6)

# axis titles
fig.text(34 / W_PX, 1 - 100 / H_PX, r"OH (cm$^{-3}$)", rotation=90, ha="center", va="center", fontsize=21)
fig.text(34 / W_PX, 1 - 288 / H_PX, r"HO$_2$ (cm$^{-3}$)", rotation=90, ha="center", va="center", fontsize=21)
fig.text(34 / W_PX, 1 - 496 / H_PX, r"RO$_2$ (cm$^{-3}$)", rotation=90, ha="center", va="center", fontsize=21)
fig.text(46 / W_PX, 1 - 674 / H_PX, r"J(O$^1$D) (s$^{-1}$)", rotation=90, ha="center", va="center", fontsize=21)
fig.text(978 / W_PX, 1 - 832 / H_PX, "Date and Time", ha="center", va="center", fontsize=21)

fig.savefig("out.png", dpi=100)
